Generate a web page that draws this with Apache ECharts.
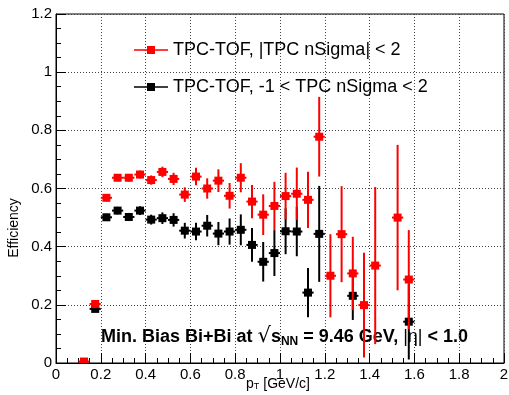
<!DOCTYPE html>
<html>
<head>
<meta charset="utf-8">
<script src="https://cdn.jsdelivr.net/npm/echarts@6/dist/echarts.min.js"></script>
<style>
  html, body { margin: 0; padding: 0; background: #fff; }
  #chart { width: 509px; height: 395px; }
</style>
</head>
<body>
<div id="chart"></div>
<script>
// pT bin centres [GeV/c]
const ptBins = [0.125, 0.175, 0.225, 0.275, 0.325, 0.375, 0.425, 0.475, 0.525, 0.575,
                0.625, 0.675, 0.725, 0.775, 0.825, 0.875, 0.925, 0.975, 1.025, 1.075,
                1.125, 1.175, 1.225, 1.275, 1.325, 1.375, 1.425, 1.475, 1.525, 1.575];

// TPC-TOF, |TPC nSigma| < 2
const effWide = [0.005, 0.203, 0.568, 0.637, 0.637, 0.648, 0.629, 0.657, 0.633, 0.579,
                 0.641, 0.600, 0.627, 0.575, 0.637, 0.555, 0.510, 0.540, 0.574, 0.582,
                 0.561, 0.778, 0.300, 0.443, 0.308, 0.199, 0.335, null, 0.500, 0.287];
const errWide = [0.005, 0.010, 0.012, 0.012, 0.013, 0.014, 0.016, 0.018, 0.021, 0.025,
                 0.030, 0.035, 0.039, 0.044, 0.050, 0.057, 0.070, 0.083, 0.080, 0.090,
                 0.097, 0.137, 0.143, 0.165, 0.126, 0.180, 0.270, null, 0.250, 0.170];

// TPC-TOF, -1 < TPC nSigma < 2
const effNarrow = [null, 0.186, 0.501, 0.524, 0.502, 0.524, 0.493, 0.498, 0.492, 0.455,
                   0.452, 0.472, 0.445, 0.452, 0.458, 0.406, 0.348, 0.378, 0.453, 0.452,
                   0.242, 0.444, null, null, 0.231, null, null, null, null, 0.142];
const errNarrow = [null, 0.010, 0.012, 0.013, 0.014, 0.015, 0.017, 0.020, 0.023, 0.027,
                   0.030, 0.037, 0.040, 0.045, 0.053, 0.058, 0.068, 0.079, 0.079, 0.085,
                   0.085, 0.165, null, null, 0.083, null, null, null, null, 0.130];

const yTicks = [0, 0.2, 0.4, 0.6, 0.8, 1, 1.2];
const xTicks = [0, 0.2, 0.4, 0.6, 0.8, 1, 1.2, 1.4, 1.6, 1.8, 2];

const nameWide = 'TPC-TOF, |TPC nSigma| < 2';
const nameNarrow = 'TPC-TOF, -1 < TPC nSigma < 2';

const FONT = 'Liberation Sans, Arial, Helvetica, sans-serif';
const BIN_HALF = 0.025;
const MARK = 8;

function toPoints(vals, errs) {
  const out = [];
  ptBins.forEach((x, i) => {
    if (vals[i] != null) out.push([x, vals[i], errs[i]]);
  });
  return out;
}

function errorBarSeries(name, color, vals, errs) {
  return {
    name: name,
    type: 'custom',
    clip: true,
    itemStyle: { color: color },
    data: toPoints(vals, errs),
    renderItem: function (params, api) {
      const x = api.value(0), y = api.value(1), e = api.value(2);
      const c = api.coord([x, y]);
      const hi = api.coord([x, y + e]);
      const lo = api.coord([x, y - e]);
      const half = api.size([BIN_HALF, 0])[0];
      const st = { stroke: color, lineWidth: 2 };
      return {
        type: 'group',
        children: [
          { type: 'line', shape: { x1: c[0], y1: hi[1], x2: c[0], y2: lo[1] }, style: st },
          { type: 'line', shape: { x1: c[0] - half, y1: c[1], x2: c[0] + half, y2: c[1] }, style: st },
          { type: 'rect', shape: { x: c[0] - MARK / 2, y: c[1] - MARK / 2, width: MARK, height: MARK },
            style: { fill: color } }
        ]
      };
    }
  };
}

const chart = echarts.init(document.getElementById('chart'), null, { renderer: 'canvas' });

const gridLine = { show: true, lineStyle: { color: '#444', width: 1, type: [1, 2] } };
const tickFmt = v => String(+v.toFixed(1));

chart.setOption({
  animation: false,
  backgroundColor: '#fff',
  grid: { left: 56, right: 5, top: 14, bottom: 32, outerBoundsMode: 'none', containLabel: false,
          show: true, borderColor: '#000', borderWidth: 1 },
  xAxis: {
    type: 'value', min: 0, max: 2, interval: 0.2,
    axisLine: { show: true, lineStyle: { color: '#000', width: 1 } },
    axisTick: { show: true, inside: true, length: 10, lineStyle: { color: '#000' } },
    minorTick: { show: true, splitNumber: 4, length: 5, lineStyle: { color: '#000' } },
    splitLine: gridLine,
    axisLabel: { color: '#000', fontFamily: FONT, fontSize: 15, margin: 4, formatter: tickFmt }
  },
  yAxis: {
    type: 'value', min: 0, max: 1.2, interval: 0.2,
    axisLine: { show: true, lineStyle: { color: '#000', width: 1 } },
    axisTick: { show: true, inside: true, length: 10, lineStyle: { color: '#000' } },
    minorTick: { show: true, splitNumber: 4, length: 5, lineStyle: { color: '#000' } },
    splitLine: gridLine,
    axisLabel: { color: '#000', fontFamily: FONT, fontSize: 15, margin: 4, formatter: tickFmt }
  },
  legend: {
    data: [nameWide, nameNarrow],
    orient: 'vertical',
    left: 129, top: 36,
    itemWidth: 34, itemHeight: 10,
    itemGap: 19,
    selectedMode: false,
    icon: 'path://M0,4.2 H34 V5.8 H0 Z M13,1 H21 V9 H13 Z',
    textStyle: { fontFamily: FONT, fontSize: 18, color: '#000', padding: [3, 0, 0, 0] }
  },
  graphic: [
    {
      type: 'text', x: 14, y: 228, rotation: Math.PI / 2,
      style: { text: 'Efficiency', fontFamily: FONT, fontSize: 14, fill: '#000',
               textAlign: 'center', textVerticalAlign: 'middle' }
    },
    {
      type: 'text', x: 278, y: 384,
      style: {
        text: '{p|p}{t|T}{p| [GeV/c]}',
        textAlign: 'center', textVerticalAlign: 'middle',
        rich: {
          p: { fontFamily: FONT, fontSize: 14, color: '#000', lineHeight: 16 },
          t: { fontFamily: FONT, fontSize: 9, color: '#000', lineHeight: 16, padding: [6, 0, 0, 0] }
        }
      }
    },
    {
      type: 'text', x: 101, y: 337,
      style: {
        text: '{b|Min. Bias Bi+Bi at }{r|\u221A}{b|s}{s|NN}{b| = 9.46 GeV, }{e|\u007C\u03B7\u007C}{b| < 1.0}',
        textVerticalAlign: 'middle',
        rich: {
          b: { fontFamily: FONT, fontSize: 18, fontWeight: 'bold', color: '#000', lineHeight: 22 },
          r: { fontFamily: 'DejaVu Sans', fontSize: 21, color: '#000', lineHeight: 22 },
          s: { fontFamily: FONT, fontSize: 12, fontWeight: 'bold', color: '#000',
               lineHeight: 22, padding: [9, 0, 0, 0] },
          e: { fontFamily: FONT, fontSize: 18, color: '#000', lineHeight: 22 }
        }
      }
    }
  ],
  series: [
    errorBarSeries(nameNarrow, '#000000', effNarrow, errNarrow),
    errorBarSeries(nameWide, '#ff0000', effWide, errWide)
  ]
});
</script>
</body>
</html>
